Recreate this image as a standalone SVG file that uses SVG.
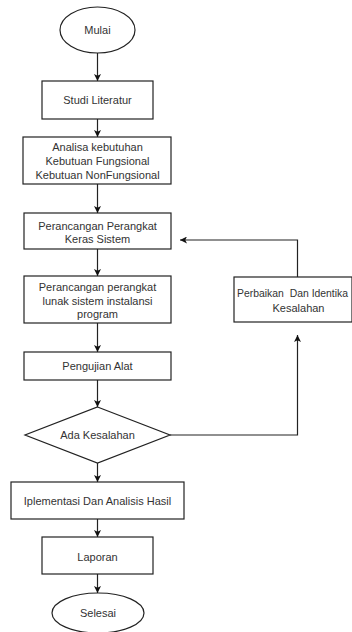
<svg xmlns="http://www.w3.org/2000/svg" width="352" height="632" viewBox="0 0 352 632">
<defs>
<style>
.n{fill:#fff;stroke:#222;stroke-width:1.2}
.t{font-family:"Liberation Sans",Arial,sans-serif;font-size:11px;fill:#333;text-anchor:middle}
.c{fill:none;stroke:#222;stroke-width:1.2}
</style>
<marker id="ah" viewBox="0 0 10 10" refX="10" refY="5" markerWidth="7" markerHeight="7" markerUnits="userSpaceOnUse" orient="auto"><path d="M0,0 L10,5 L0,10 L2.5,5 Z" fill="#111"/></marker>
</defs>
<rect width="352" height="632" fill="#fff"/>
<g id="connectors">
<path class="c" d="M97.5,53 V81" marker-end="url(#ah)"/>
<path class="c" d="M97.5,119 V137" marker-end="url(#ah)"/>
<path class="c" d="M97.5,184 V213" marker-end="url(#ah)"/>
<path class="c" d="M97.5,249 V276" marker-end="url(#ah)"/>
<path class="c" d="M97.5,323 V352" marker-end="url(#ah)"/>
<path class="c" d="M97.5,380 V407" marker-end="url(#ah)"/>
<path class="c" d="M97.5,463 V482" marker-end="url(#ah)"/>
<path class="c" d="M97.5,519 V537" marker-end="url(#ah)"/>
<path class="c" d="M97.5,574 V593" marker-end="url(#ah)"/>
<path class="c" d="M170,435 H297.5 V335" marker-end="url(#ah)"/>
<path class="c" d="M297.5,277 V240 H180" marker-end="url(#ah)"/>
</g>
<g id="mulai"><ellipse class="n" cx="97.5" cy="30" rx="37.5" ry="23"/><text class="t" x="97.5" y="34">Mulai</text></g>
<g id="studi"><rect class="n" x="42" y="81" width="111" height="38"/><text class="t" x="97.5" y="104">Studi Literatur</text></g>
<g id="analisa"><rect class="n" x="23" y="137" width="148" height="47"/><text class="t" x="97.5" y="151">Analisa kebutuhan</text><text class="t" x="97.5" y="165">Kebutuan Fungsional</text><text class="t" x="97.5" y="179">Kebutuan NonFungsional</text></g>
<g id="keras"><rect class="n" x="24" y="213" width="147" height="36"/><text class="t" x="97.5" y="230">Perancangan Perangkat</text><text class="t" x="97.5" y="243">Keras Sistem</text></g>
<g id="lunak"><rect class="n" x="24" y="276" width="147" height="47"/><text class="t" x="97.5" y="291">Perancangan perangkat</text><text class="t" x="97.5" y="305">lunak sistem instalansi</text><text class="t" x="97.5" y="318">program</text></g>
<g id="pengujian"><rect class="n" x="24" y="352" width="147" height="28"/><text class="t" x="97.5" y="370">Pengujian Alat</text></g>
<g id="ada"><polygon class="n" points="97.5,407 170,435 97.5,463 25,435"/><text class="t" x="97.5" y="439">Ada Kesalahan</text></g>
<g id="perbaikan"><rect class="n" x="234" y="277" width="118" height="45"/><text class="t" x="237" y="297" style="text-anchor:start;font-size:10.4px">Perbaikan <tspan dx="3">Dan Identika</tspan></text><text class="t" x="298.5" y="312">Kesalahan</text></g>
<g id="implementasi"><rect class="n" x="11" y="482" width="173" height="37"/><text class="t" x="97.5" y="505">Iplementasi Dan Analisis Hasil</text></g>
<g id="laporan"><rect class="n" x="42" y="537" width="111" height="37"/><text class="t" x="97.5" y="561">Laporan</text></g>
<g id="selesai"><ellipse class="n" cx="98" cy="613" rx="46" ry="20"/><text class="t" x="98" y="617">Selesai</text></g>
</svg>
